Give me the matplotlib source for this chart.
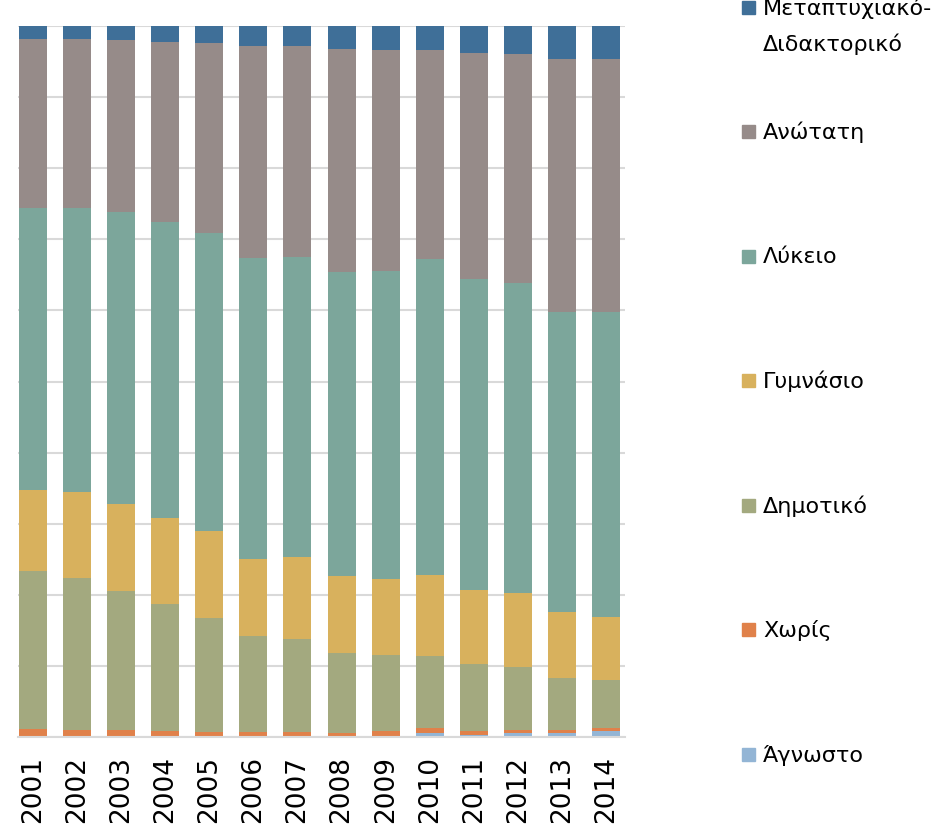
import matplotlib.pyplot as plt
import numpy as np
from matplotlib.patches import Rectangle

plt.rcParams['font.family'] = ['DejaVu Sans']

# Data (percent shares)
years = ['2001', '2002', '2003', '2004', '2005', '2006', '2007',
         '2008', '2009', '2010', '2011', '2012', '2013', '2014']
agnosto = [0, 0, 0, 0, 0, 0, 0, 0, 0, 0.56, 0.24, 0.52, 0.52, 0.8]
choris = [1.13, 1.03, 1.03, 0.85, 0.75, 0.75, 0.75, 0.52, 0.89, 0.75, 0.65, 0.51, 0.51, 0.51]
dimotiko = [22.15, 21.3, 19.53, 17.93, 16.06, 13.44, 13.06, 11.27, 10.66, 10.14, 9.35, 8.87, 7.24, 6.72]
gymnasio = [11.46, 12.14, 12.21, 12.07, 12.17, 10.89, 11.51, 10.89, 10.7, 11.37, 10.46, 10.38, 9.34, 8.87]
lykeio = [39.7, 40.0, 41.13, 41.55, 41.97, 42.35, 42.25, 42.77, 43.34, 44.46, 43.76, 43.62, 42.15, 42.86]
anotati = [23.7, 23.7, 24.23, 25.45, 26.76, 29.86, 29.62, 31.41, 31.07, 29.38, 31.73, 32.25, 35.69, 35.63]
metaptyxiako = [1.87, 1.87, 1.92, 2.2, 2.34, 2.76, 2.86, 3.18, 3.38, 3.38, 3.85, 3.89, 4.59, 4.65]

labels = ['Άγνωστο', 'Χωρίς', 'Δημοτικό', 'Γυμνάσιο', 'Λύκειο', 'Ανώτατη',
          'Μεταπτυχιακό-\nΔιδακτορικό']
colors = ['#93B5D5', '#E0814A', '#A3A97F', '#D8B15D', '#7CA69B', '#968B89', '#3F6F98']
series = [agnosto, choris, dimotiko, gymnasio, lykeio, anotati, metaptyxiako]

data = np.array(series, dtype=float)
data = data / data.sum(axis=0) * 100  # 100% stacked

fig = plt.figure(figsize=(9.42, 8.28), dpi=100)
ax = fig.add_axes([18/942, 1 - 738/828, 607/942, 711/828])

x = np.arange(len(years))
bottom = np.zeros(len(years))
for vals, col in zip(data, colors):
    ax.bar(x, vals, bottom=bottom, width=0.635, color=col, zorder=2)
    bottom += vals

ax.set_xlim(-0.34, len(years) - 1 + 0.43)
ax.set_ylim(0, 100)
ax.set_yticks(np.arange(0, 101, 10))
ax.set_yticklabels([])
ax.yaxis.grid(True, color='#D9D9D9', linewidth=1.5, zorder=0)
ax.set_axisbelow(True)
for s in ['top', 'right', 'left']:
    ax.spines[s].set_visible(False)
ax.spines['bottom'].set_color('#D9D9D9')
ax.spines['bottom'].set_linewidth(1.5)
ax.tick_params(axis='y', length=0)
ax.tick_params(axis='x', length=0, pad=13)
ax.set_xticks(x)
ax.set_xticklabels(years, rotation=90, fontsize=19)

# Legend drawn on the right, top entry first
H, W = 828.0, 942.0
y0 = 8
step = 124.5
for i, (lab, col) in enumerate(zip(labels[::-1], colors[::-1])):
    yc = y0 + i * step
    fig.patches.append(Rectangle((742/W, 1 - (yc + 6.5)/H), 13/W, 13/H,
                                 transform=fig.transFigure, color=col))
    for j, line in enumerate(lab.split('\n')):
        fig.text(763/W, 1 - (yc + j * 36)/H, line, fontsize=16,
                 va='center', ha='left')

fig.savefig('out.png', dpi=100)
